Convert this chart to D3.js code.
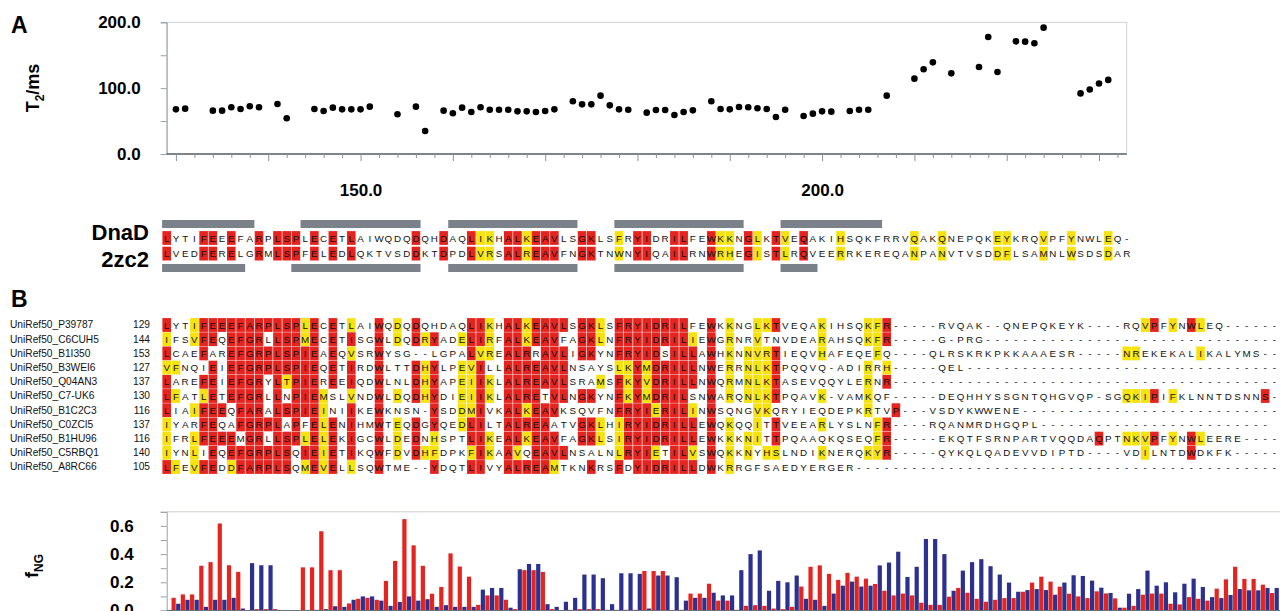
<!DOCTYPE html>
<html>
<head>
<meta charset="utf-8">
<script src="https://cdn.jsdelivr.net/npm/d3@7"></script>
<style>
  body { margin: 0; background: #fff; }
  svg { display: block; font-family: "Liberation Sans", Arial, Helvetica, sans-serif; }
</style>
</head>
<body>
<svg id="fig" width="1280" height="611"></svg>
<script>
// ---- panel A : T2 per residue
var t2Res = [130,131,134,135,136,137,138,139,141,142,145,146,147,148,149,150,151,154,156,157,
             159,160,161,162,163,164,165,166,167,168,169,170,171,173,174,175,176,177,178,179,
             181,182,183,184,185,186,188,189,190,191,192,193,194,195,196,198,199,200,201,203,
             204,205,207,210,211,212,214,217,218,219,221,222,223,224,228,229,230,231];
var t2Val = [67.8,68.9,65.8,65.8,70.9,68.4,72.4,70.9,76,54.2,68.4,65.3,70.4,67.8,67.8,67.8,71.9,60.3,71.9,34.9,
             65.8,61.8,70.4,63.8,70.9,67.3,67.3,67.3,64.8,64.8,63.8,65.3,67.8,80,75.4,75.4,88.6,73.9,67.8,67.3,
             62.8,66.8,66.8,59.2,63.8,66.3,80,68.4,67.8,71.4,70.9,69.4,68.4,56.2,67.3,57.7,61.3,64.8,64.3,65.3,
             67.3,67.3,88.6,114.4,128.6,139.2,122.5,132.2,177.7,124.6,171.1,170.6,168.1,191.9,92,98,107,112.5];
var t2Labels = [150, 200];

// ---- DnaD / 2zc2 pair alignment (first residue 129)
var pairNames = ["DnaD", "2zc2"];
var pairSeqs = [
  "LYTIFEEEFARPLSPLECETLAIWQDQDQHDAQLIKHALKEAVLSGKLSFRYIDRILFEWKKNGLKTVEQAKIHSQKFRRVQAKQNEPQKEYKRQVPFYNWLEQ-",
  "LVEDFERELGRMLSPFELEDLQKTVSDDKTDPDLVRSALREAVFNGKTNWNYIQAILRNWRHEGISTLRQVEERRKEREQANPANVTVSDDFLSAMNLWSDSDAR"
];
// r = identical (red), y = similar (yellow), . = none
var pairMarks = ["r...rr.r..","r.rrr.r.r.","r......r..","r..ryy.rry","rrr..rr..y",".rr..rr..r",
                 "yy.ry.ry.r","...y......",".y..y.....","yy...y..y.","..y.."].join("");
var helixTop = [[129,138],[144,156],[160,173],[178,191],[196,206]];
var helixBottom = [[129,137],[143,156],[160,173],[178,191],[196,199]];

// ---- panel B : UniRef50 alignment
var uniNames = ["UniRef50_P39787","UniRef50_C6CUH5","UniRef50_B1I350","UniRef50_B3WEI6","UniRef50_Q04AN3",
                "UniRef50_C7-UK6","UniRef50_B1C2C3","UniRef50_C0ZCI5","UniRef50_B1HU96","UniRef50_C5RBQ1","UniRef50_A8RC66"];
var uniStart = [129,144,153,127,137,130,116,137,116,140,105];
var uniSeqs = [
  "LYTIFEEEFARPLSPLECETLAIWQDQDQHDAQLIKHALKEAVLSGKLSFRYIDRILFEWKKNGLKTVEQAKIHSQKFR-----RVQAK--QNEPQKEYK----RQVPFYNWLEQ------",
  "IFSVFEQEFGRLLSPMECETISGWLDQDRYADELIRFALKEAVFAGKLNFRYIDRILIEWGRNRVTNVDEARAHSQKFR-----G-PRG--------------------------------",
  "LCAEFAREFGRPLSPIEAEQVSRWYSG--LGPALVREALRRAVLIGKYNFRYIDSILLAWHKNNVRTIEQVHAFEQEFQ----QLRSKRKPKKAAAESR-----NREKEKALIKALYMS--",
  "VFNQIEIEFGRPLSPIEQETIRDWLTTDHYLPEVILLALREAVLNSAYSLKYMDRILLNWERRNLKTPQQVQ-ADIRRH-----QEL----------------------------------",
  "LAREFEIEFGRYLTPIEREEIQDWLNLDHYAPEIIKLALREAVLSRAMSFKYVDRILLNWQRMNLKTASEVQQYLERNR------------------------------------------",
  "LFATLETEFGRLLNPIEMSLVNDWLDQDHYDIEIIKLALRETVLNGKYNFKYMDRILSNWARQNLKTPQAVK-VAMKQF-----DEQHHYSSGNTQHGVQP-SGQKIPIFKLNNTDSNNS-",
  "LIAIFEEQFARALSPIEINIIKEWKNSN-YSDDMIVKALKEAVKSQVFNFRYIERILINWSQNGVKQRYIEQDEPKRTVP---VSDYKWWENE----------------------------",
  "IYARFEQAFGRPLAPFELENIHMWTEQDGYQEDLILTALREAATVGKLHIRYIDRILLEWQKQQITTVEEARLYSLNFR----RQANMRDHGQPL-------------------------",
  "IFRLFEEEMGRLLSPLELEKIGCWLDEDNHSPTLIKEALKEAVFAGKLSIRYIDRILLEWKKKNITTPQAAQKQSEQFR-----EKQTFSRNPARTVQQDAQPTNKVPFYNWLEERE----",
  "IYNLIEQEFGRPLSQIEIETIKQWFDVDHFDPKFIKAAVQEAVLNSALNLRYIETILVSWQKKNYHSLNDIKNERQKYR-----QYKQLQADEVVDIPTD----VDILNTDWDKFK-----",
  "LFEVFEDDFARPLSQMEVELLSQWTME--YDQTLIVYALREAMTKNKRSFDYIDRILLDWKRRGFSAEDYERGER----------------------------------------------"
];
var uniMarks = [
  ["r..yrrrrrr","rrrrryr.r.","y..r.y.r..","...rry.rry","rrrr.rry.r","rrrrrrr..r",".y..yyr...",".y....yyr.","..........","..........","......yr.y",".ry......."],
  ["y..yrr.rrr","r.rrryr.r.","r..r.y.ryr","..yrry.rry","rrr..rry.r","rrrrrrry.r",".y..y.....",".y....yyr."],
  ["r...r..rrr","rrrrrrr.r.","y..r......","...ryy.rrr",".rrr.rr..r","rrrr.rrr.r",".y.yyyr...",".y.....y..","..........","..........","....yy....","..y......."],
  ["yy...r.rrr","rrrrrrr.r.","r..r...ryr","..yyr..rrr","rrrr.....y","yryrrrrr.r",".y.yyyr...","......y.y."],
  ["r...rr.rrr","r.ryrrr.r.","r..r...ryr","..yyry.rrr","rrrr...y.r","yryrrrrr.r",".y.yyyr...","......y.r."],
  ["ry..yr.rrr","r.r.rrry..","y..r.y.ryr","..yyry.rrr","r.rr.rr..r","yryrrrr..r",".y.yyyr...",".y....y...","..........","..........","....yyyr.y",".........r"],
  ["r..yrrr.rr","r.rrrrry..","r..r.....r","..yyr..rry","rrr......r","rrryrrry.r","....yy....","......y..r"],
  ["y...rr..rr","rrr.r.ryr.","r..r.y.r.r","..yrr..rrr","rr...rry.y","rrrrrrrr.r",".y..y.r...",".y.....yr."],
  ["y..yrrrr.r","r.rrryryr.","r..r.y.r.y","...rry.rry","rrr..rry.y","rrrrrrrr.r",".y.yy.r...",".......yr.","..........","..........",".r..yyyr.y",".ry......."],
  ["y..y.r.rrr","rrrr.rryr.","r..r.y.ryy","...yry.ry.","rrrr.....y","rrry.rry.r",".y.y.yy...",".y....yyr.","..........","..........","......y...",".r........"],
  ["ry.yrr.yrr","rrrr.yryr.","y..r.....r","...rr..rrr","rry...r..r",".rrrrrrr.r",".y........"]
].map(function(a) { return a.join(""); });

// ---- panel C : f_NG per residue
var fRes = d3.range(130, 250);
var fRed = [.09,.114,.114,.317,.343,.617,.321,.274,0,.01,
            .01,.01,0,0,.306,.306,.562,.286,.286,.05,
            .083,.09,.076,.21,.352,.648,.462,.317,.119,.167,
            .405,.312,.24,.04,.107,.107,.076,.01,.286,.286,
            .274,.01,0,.005,.01,.01,.01,.005,.005,.005,
            .005,.28,.28,.28,0,.005,.12,.12,.19,.07,
            .07,.005,.033,.038,.033,.014,.01,.026,.17,.31,
            .32,.26,.217,.267,.24,.226,.188,.14,.107,.12,
            .107,.055,.04,.04,.098,.16,.126,.083,.062,.076,
            .088,.088,.133,.198,.24,.205,.169,.119,.10,.088,
            .136,.121,.086,.02,.033,.112,.12,.12,.048,.043,
            .095,.083,.07,.155,.221,.31,.224,.224,.183,.124];
var fBlue = [.048,.076,.076,.026,.076,.076,.09,.014,.336,.321,
             .321,0,0,0,0,.005,.01,.03,.026,.076,
             .10,.10,.07,.033,.06,.10,.07,.08,.026,.038,
             .026,.026,.026,.148,.16,.16,.02,.293,.33,.33,
             .045,.026,.062,.09,.255,.255,.229,.045,.264,.264,
             .26,.014,.248,.248,.236,.07,.09,.09,.126,.107,
             .107,.286,.40,.426,.14,.21,.20,.248,.083,.076,
             .033,.12,.176,.205,.17,.176,.32,.34,.417,.238,
             .31,.507,.507,.40,.14,.283,.343,.364,.314,.255,
             .198,.133,.145,.152,.145,.112,.198,.25,.245,.212,
             .162,.124,.02,.119,.152,.283,.176,.20,.129,.19,
             .226,.167,.095,.088,.11,.152,.143,.143,.16,.16];

var RED = "#e5231f", YEL = "#f6e20e", BLUE = "#2c3190", GREY = "#7b8189";

var svg = d3.select("#fig");
var x = d3.scaleLinear().domain([129, 233]).range([166.7, 1126.7]);
var step = x(130) - x(129);

function bold(sel, size) {
  sel.attr("font-weight", "bold").attr("font-size", size).attr("fill", "#000");
}

// ================= A : scatter =================
var yT2 = d3.scaleLinear().domain([0, 200]).range([154, 22.3]);

svg.append("rect")
  .attr("x", x(129)).attr("y", yT2(200))
  .attr("width", x(233) - x(129)).attr("height", yT2(0) - yT2(200))
  .attr("fill", "none").attr("stroke", "#cdd2d8");

var ay = svg.append("g").attr("transform", "translate(" + x(129) + ",0)")
  .call(d3.axisLeft(yT2).tickValues([0, 50, 100, 150, 200]).tickSize(6).tickPadding(20)
    .tickFormat(function(d) { return d % 100 === 0 ? d.toFixed(1) : ""; }));
ay.select(".domain").attr("stroke", "#9aa1a9");
ay.selectAll(".tick line").attr("stroke", "#9aa1a9");
ay.selectAll(".tick text").call(bold, 17).attr("font-family", "Liberation Sans, Arial, sans-serif");

var ax = svg.append("g").attr("transform", "translate(0," + yT2(0) + ")")
  .call(d3.axisBottom(x).tickValues(d3.range(130, 233, 2)).tickSize(4).tickFormat(""));
ax.select(".domain").attr("stroke", "#5b626b").attr("stroke-width", 1.3)
  .attr("d", "M" + x(129) + ",0H" + x(233));
ax.selectAll(".tick line").attr("stroke", "#8b929a")
  .attr("y2", function(d) { return d % 10 === 0 ? 7 : 4; });

var axl = svg.append("g").attr("transform", "translate(0," + yT2(0) + ")")
  .call(d3.axisBottom(x).tickValues(t2Labels).tickSize(0).tickPadding(30)
    .tickFormat(function(d) { return d.toFixed(1); }));
axl.select(".domain").remove();
axl.selectAll("text").call(bold, 17).attr("font-family", "Liberation Sans, Arial, sans-serif");

svg.append("g").selectAll("circle")
  .data(t2Res).enter().append("circle")
  .attr("cx", function(d) { return x(d); })
  .attr("cy", function(d, i) { return yT2(t2Val[i]); })
  .attr("r", 3.3).attr("fill", "#000");

var t2lab = svg.append("text").attr("transform", "translate(39,88) rotate(-90)")
  .attr("text-anchor", "middle").call(bold, 18);
t2lab.append("tspan").text("T");
t2lab.append("tspan").attr("font-size", 12).attr("dy", 5).text("2");
t2lab.append("tspan").attr("dy", -5).text("/ms");

svg.append("text").attr("x", 11).attr("y", 33).call(bold, 23).text("A");

// ================= alignment rows =================
function drawRow(g, seq, marks, cy) {
  var chars = seq.split("").map(function(c, i) { return { c: c, i: i, m: marks.charAt(i) }; });
  g.append("g").selectAll("rect")
    .data(chars.filter(function(d) { return d.m === "r" || d.m === "y"; }))
    .enter().append("rect")
    .attr("x", function(d) { return x(129 + d.i) - 4.3; })
    .attr("y", cy - 6.9).attr("width", 8.6).attr("height", 13.8)
    .attr("fill", function(d) { return d.m === "r" ? RED : YEL; });
  g.append("g").selectAll("text")
    .data(chars)
    .enter().append("text")
    .attr("x", function(d) { return x(129 + d.i); })
    .attr("y", cy + 3.5)
    .attr("text-anchor", "middle").attr("font-size", 9.8).attr("fill", "#111")
    .text(function(d) { return d.c; });
}

var pa = svg.append("g");
var pairY = [238, 253.6];
pairSeqs.forEach(function(s, k) { drawRow(pa, s, pairMarks, pairY[k]); });

pa.append("g").selectAll("rect").data(helixTop).enter().append("rect")
  .attr("x", function(d) { return x(d[0]) - step / 2; })
  .attr("width", function(d) { return x(d[1]) - x(d[0]) + step; })
  .attr("y", 220).attr("height", 8).attr("fill", GREY);
pa.append("g").selectAll("rect").data(helixBottom).enter().append("rect")
  .attr("x", function(d) { return x(d[0]) - step / 2; })
  .attr("width", function(d) { return x(d[1]) - x(d[0]) + step; })
  .attr("y", 264).attr("height", 8).attr("fill", GREY);

pa.selectAll(".pname").data(pairNames).enter().append("text")
  .attr("x", 149).attr("y", function(d, i) { return [240, 267][i]; })
  .attr("text-anchor", "end").call(bold, 22)
  .text(function(d) { return d; });

// ================= B : UniRef50 alignment =================
svg.append("text").attr("x", 11).attr("y", 307).call(bold, 23).text("B");
var pb = svg.append("g");
uniSeqs.forEach(function(s, k) {
  var cy = 325 + k * 14.2;
  drawRow(pb, s, uniMarks[k], cy);
  pb.append("text").attr("x", 10).attr("y", cy + 3.4).attr("font-size", 10.2).attr("fill", "#111").text(uniNames[k]);
  pb.append("text").attr("x", 150).attr("y", cy + 3.4).attr("text-anchor", "end")
    .attr("font-size", 10.2).attr("fill", "#111").text(uniStart[k]);
});

// ================= C : f_NG bars =================
var yF = d3.scaleLinear().domain([0, 0.7]).range([610.5, 511.8]);
svg.append("line").attr("x1", x(129)).attr("x2", 1280).attr("y1", yF(0.7)).attr("y2", yF(0.7))
  .attr("stroke", "#c9ced4");
var bars = svg.append("g");
bars.selectAll(".r").data(fRes).enter().append("rect")
  .attr("x", function(d) { return x(d) - step / 4 - 2.1; })
  .attr("width", 4.2)
  .attr("y", function(d, i) { return yF(fRed[i]); })
  .attr("height", function(d, i) { return yF(0) - yF(fRed[i]); })
  .attr("fill", RED);
bars.selectAll(".b").data(fRes).enter().append("rect")
  .attr("x", function(d) { return x(d) + step / 4 - 2.1; })
  .attr("width", 4.2)
  .attr("y", function(d, i) { return yF(fBlue[i]); })
  .attr("height", function(d, i) { return yF(0) - yF(fBlue[i]); })
  .attr("fill", BLUE);

var afy = svg.append("g").attr("transform", "translate(" + x(129) + ",0)")
  .call(d3.axisLeft(yF).tickValues([0, .1, .2, .3, .4, .5, .6, .7]).tickSize(6).tickPadding(27)
    .tickFormat(function(d) { return Math.round(d * 10) % 2 === 0 && d < 0.65 ? d.toFixed(1) : ""; }));
afy.select(".domain").attr("stroke", "#9aa1a9");
afy.selectAll(".tick line").attr("stroke", "#9aa1a9");
afy.selectAll(".tick text").call(bold, 17).attr("font-family", "Liberation Sans, Arial, sans-serif");
svg.append("line").attr("x1", x(129)).attr("x2", 1280).attr("y1", yF(0)).attr("y2", yF(0))
  .attr("stroke", "#6b727a");

var flab = svg.append("text").attr("transform", "translate(38,566) rotate(-90)")
  .attr("text-anchor", "middle").call(bold, 18);
flab.append("tspan").text("f");
flab.append("tspan").attr("font-size", 12).attr("dy", 5).text("NG");
</script>
</body>
</html>
